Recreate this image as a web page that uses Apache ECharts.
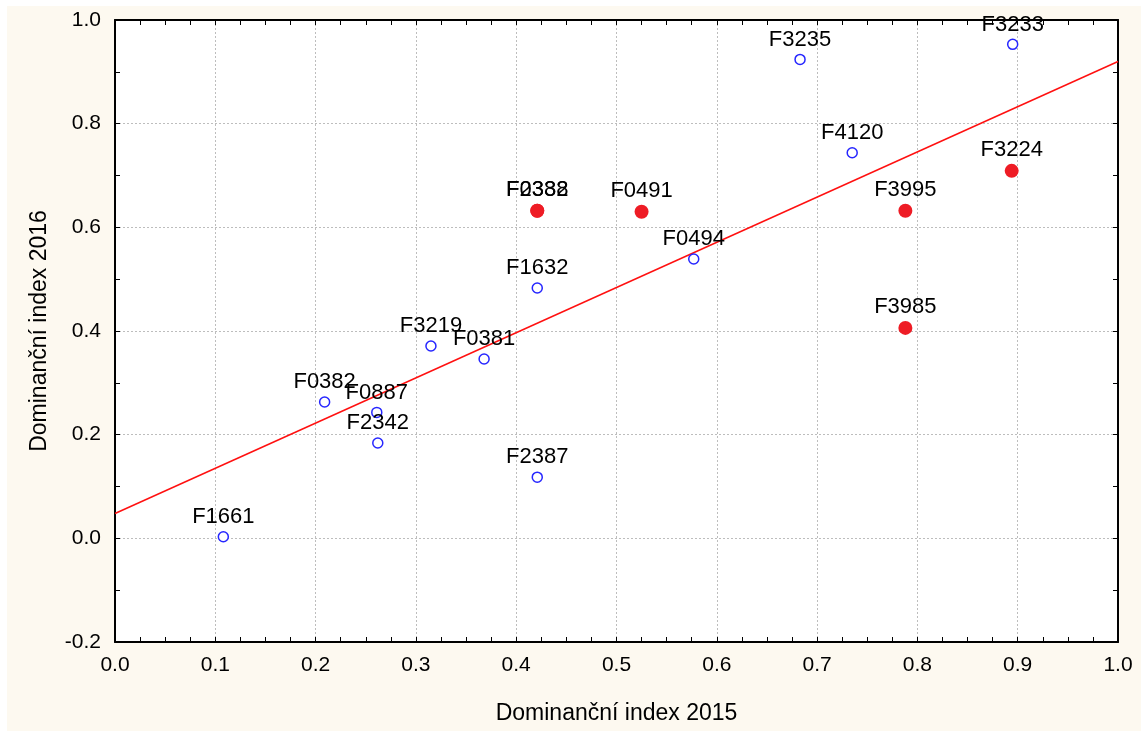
<!DOCTYPE html>
<html>
<head>
<meta charset="utf-8">
<script src="https://cdn.jsdelivr.net/npm/echarts@6/dist/echarts.min.js"></script>
<style>
  html, body { margin: 0; padding: 0; background: #ffffff; }
  #chart { position: absolute; left: 7px; top: 6px; width: 1134px; height: 725px; background: #fdf9f0; }
</style>
</head>
<body>
<div id="chart"></div>
<script>
// Stations with a blue hollow marker
const blueCodes = ['F1661', 'F0382', 'F0887', 'F2342', 'F3219', 'F0381', 'F1632', 'F2387', 'F0494', 'F3235', 'F4120', 'F3233'];
const blueX2015 = [0.108, 0.209, 0.261, 0.262, 0.315, 0.368, 0.421, 0.421, 0.577, 0.683, 0.735, 0.895];
const blueY2016 = [0.003, 0.263, 0.243, 0.184, 0.371, 0.346, 0.483, 0.118, 0.539, 0.924, 0.744, 0.953];

// Stations with a red filled marker
const redCodes = ['F2332', 'F0388', 'F0491', 'F3995', 'F3985', 'F3224'];
const redX2015 = [0.421, 0.421, 0.525, 0.788, 0.788, 0.894];
const redY2016 = [0.632, 0.632, 0.630, 0.632, 0.406, 0.709];

// Fitted regression line, end points
const fitX = [0.0, 1.0];
const fitY = [0.048, 0.920];

const xTicks = [0.0, 0.1, 0.2, 0.3, 0.4, 0.5, 0.6, 0.7, 0.8, 0.9, 1.0];
const yTicks = [-0.2, 0.0, 0.2, 0.4, 0.6, 0.8, 1.0];

const xName = 'Dominanční index 2015';
const yName = 'Dominanční index 2016';

const FONT = '"Liberation Sans", Arial, sans-serif';

function points(codes, xs, ys) {
  return codes.map((c, i) => ({ name: c, value: [xs[i], ys[i]] }));
}

const labelStyle = {
  show: true,
  position: 'top',
  distance: 3,
  formatter: p => p.name,
  color: '#000000',
  opacity: 1,
  fontFamily: FONT,
  fontSize: 22
};

const axisLine = { show: true, onZero: false, lineStyle: { color: '#000', width: 2 } };
const tickStyle = { show: true, inside: true, length: 5, lineStyle: { color: '#000' } };

const chart = echarts.init(document.getElementById('chart'), null, { renderer: 'canvas' });

chart.setOption({
  animation: false,
  backgroundColor: 'transparent',
  grid: {
    left: 108, top: 14, width: 1003, height: 622,
    show: true, backgroundColor: '#ffffff', borderWidth: 0,
    containLabel: false
  },
  xAxis: [{
    type: 'value', min: xTicks[0], max: xTicks[xTicks.length - 1], interval: 0.1,
    position: 'bottom',
    name: xName, nameLocation: 'middle', nameGap: 60,
    nameTextStyle: { color: '#000', fontFamily: FONT, fontSize: 23 },
    axisLine: axisLine,
    axisTick: tickStyle,
    minorTick: { show: true, splitNumber: 4, length: 5, lineStyle: { color: '#000' } },
    axisLabel: { color: '#000', fontFamily: FONT, fontSize: 21, margin: 13, formatter: v => v.toFixed(1) },
    splitLine: { show: true, lineStyle: { color: '#bdbdbd', type: [2, 2], width: 1 } }
  }, {
    type: 'value', min: xTicks[0], max: xTicks[xTicks.length - 1], interval: 0.1,
    position: 'top',
    axisLine: axisLine,
    axisTick: tickStyle,
    minorTick: { show: true, splitNumber: 4, length: 5, lineStyle: { color: '#000' } },
    axisLabel: { show: false },
    splitLine: { show: false }
  }],
  yAxis: [{
    type: 'value', min: yTicks[0], max: yTicks[yTicks.length - 1], interval: 0.2,
    position: 'left',
    name: yName, nameLocation: 'middle', nameGap: 64, nameRotate: 90,
    nameTextStyle: { color: '#000', fontFamily: FONT, fontSize: 23 },
    axisLine: axisLine,
    axisTick: tickStyle,
    minorTick: { show: true, splitNumber: 2, length: 5, lineStyle: { color: '#000' } },
    axisLabel: { color: '#000', fontFamily: FONT, fontSize: 21, margin: 14, formatter: v => v.toFixed(1) },
    splitLine: { show: true, lineStyle: { color: '#bdbdbd', type: [2, 2], width: 1 } }
  }, {
    type: 'value', min: yTicks[0], max: yTicks[yTicks.length - 1], interval: 0.2,
    position: 'right',
    axisLine: axisLine,
    axisTick: tickStyle,
    minorTick: { show: true, splitNumber: 2, length: 5, lineStyle: { color: '#000' } },
    axisLabel: { show: false },
    splitLine: { show: false }
  }],
  series: [{
    type: 'line',
    data: fitX.map((x, i) => [x, fitY[i]]),
    symbol: 'none',
    lineStyle: { color: '#ff1010', width: 1.5 },
    silent: true,
    z: 2
  }, {
    type: 'scatter',
    data: points(blueCodes, blueX2015, blueY2016),
    symbol: 'circle',
    symbolSize: 10,
    itemStyle: { color: '#ffffff', borderColor: '#2626ff', borderWidth: 1.5, opacity: 1 },
    label: labelStyle,
    z: 3
  }, {
    type: 'scatter',
    data: points(redCodes, redX2015, redY2016),
    symbol: 'circle',
    symbolSize: 14,
    itemStyle: { color: '#ee1c25', opacity: 1 },
    label: labelStyle,
    z: 3
  }]
});
</script>
</body>
</html>
